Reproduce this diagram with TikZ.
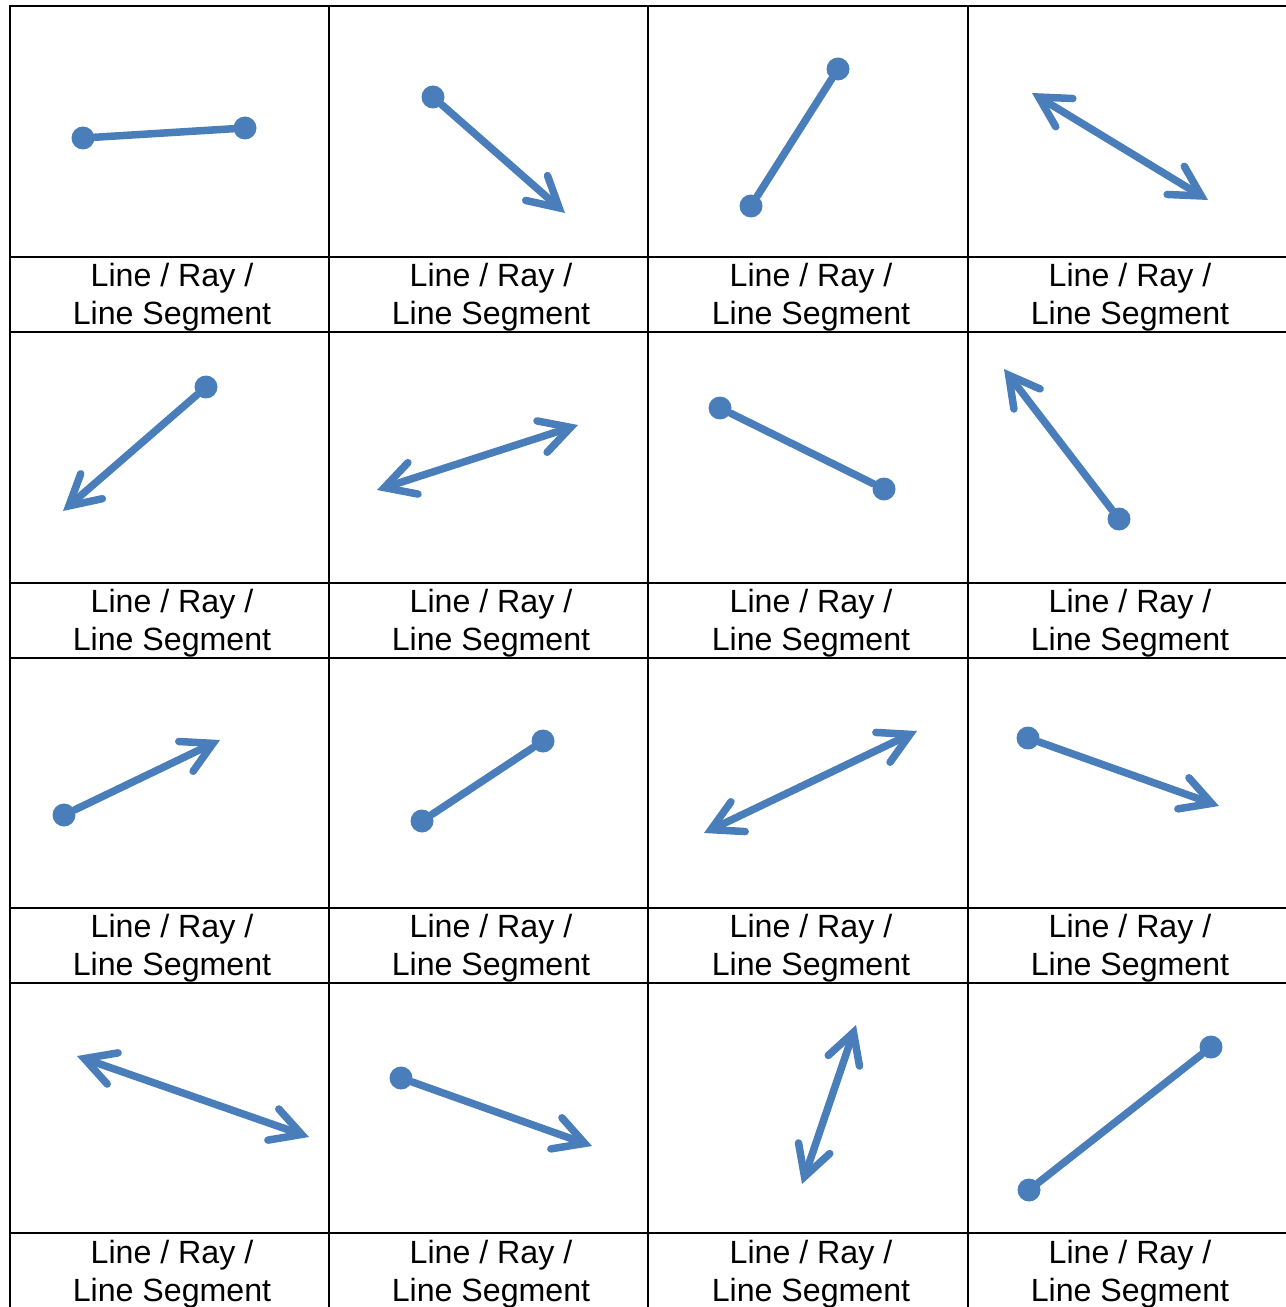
\documentclass[tikz,border=0pt]{standalone}
\usepackage{fontspec}
\setmainfont{Liberation Sans}
\usetikzlibrary{arrows.meta}
\definecolor{segblue}{HTML}{4A7EBB}
\tikzset{
  ptdot/.style={circle,fill=segblue,inner sep=0pt,minimum size=0.46cm},
  ray/.style={segblue,line width=0.15cm,line cap=round},
  barb/.tip={Straight Barb[length=0.6cm,width=0.66cm,line cap=round]},
  grid/.style={black,line width=0.045cm,line cap=rect},
  lbl/.style={font=\fontsize{18.3}{21.3}\selectfont,align=center,inner sep=0pt}
}
\begin{document}
\begin{tikzpicture}[x=0.02cm,y=-0.02cm,line join=round]
	\useasboundingbox (0,0) rectangle (1285,1307);
	% table
	\foreach \x in {10,329,648,968} \draw[grid] (\x,6)--(\x,1307);
	\foreach \y in {6,257,332,583,658,908,983,1233} \draw[grid] (10,\y)--(1285,\y);
	\foreach \cx [count=\c] in {172,491,811,1130}
		\foreach \cy [count=\r] in {297,623,948,1274}
			\node[lbl] (lbl-\r-\c) at (\cx,\cy) {Line / Ray /\\Line Segment};
	% row 1
	\node[ptdot] (a11) at (83,138) {}; \node[ptdot] (b11) at (245,128) {};
	\draw[ray] (a11)--(b11);
	\node[ptdot] (a12) at (433,97) {}; \coordinate (b12) at (565,213);
	\draw[ray,-barb] (a12)--(b12);
	\node[ptdot] (a13) at (751,206) {}; \node[ptdot] (b13) at (838,69) {};
	\draw[ray] (a13)--(b13);
	\coordinate (a14) at (1032,93); \coordinate (b14) at (1208,200);
	\draw[ray,barb-barb] (a14)--(b14);
	% row 2
	\node[ptdot] (a21) at (206,387) {}; \coordinate (b21) at (63,511);
	\draw[ray,-barb] (a21)--(b21);
	\coordinate (a22) at (377,490); \coordinate (b22) at (578,425);
	\draw[ray,barb-barb] (a22)--(b22);
	\node[ptdot] (a23) at (720,408) {}; \node[ptdot] (b23) at (884,489) {};
	\draw[ray] (a23)--(b23);
	\node[ptdot] (a24) at (1119,519) {}; \coordinate (b24) at (1004,369);
	\draw[ray,-barb] (a24)--(b24);
	% row 3
	\node[ptdot] (a31) at (64,815) {}; \coordinate (b31) at (220,740);
	\draw[ray,-barb] (a31)--(b31);
	\node[ptdot] (a32) at (422,821) {}; \node[ptdot] (b32) at (543,741) {};
	\draw[ray] (a32)--(b32);
	\coordinate (a33) at (704,833); \coordinate (b33) at (917,731);
	\draw[ray,barb-barb] (a33)--(b33);
	\node[ptdot] (a34) at (1028,738) {}; \coordinate (b34) at (1219,806);
	\draw[ray,-barb] (a34)--(b34);
	% row 4
	\coordinate (a41) at (77,1056); \coordinate (b41) at (309,1137);
	\draw[ray,barb-barb] (a41)--(b41);
	\node[ptdot] (a42) at (401,1078) {}; \coordinate (b42) at (592,1146);
	\draw[ray,-barb] (a42)--(b42);
	\coordinate (a43) at (802,1184); \coordinate (b43) at (856,1025);
	\draw[ray,barb-barb] (a43)--(b43);
	\node[ptdot] (a44) at (1029,1190) {}; \node[ptdot] (b44) at (1211,1047) {};
	\draw[ray] (a44)--(b44);
\end{tikzpicture}
\end{document}
